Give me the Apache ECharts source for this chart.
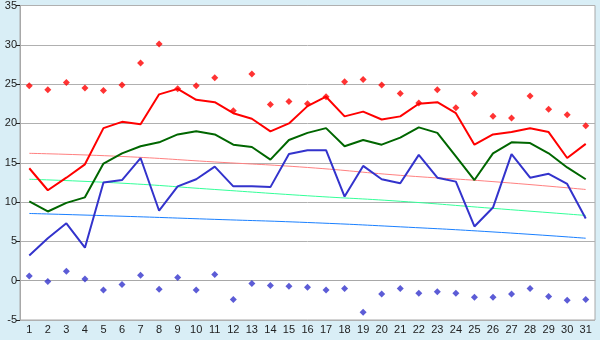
<!DOCTYPE html>
<html lang="en">
	<head>
		<meta charset="UTF-8">
		<title>Temperatures</title>
		<script src="https://cdn.jsdelivr.net/npm/echarts@6/dist/echarts.min.js"></script>
		<style>
			html, body { margin: 0; padding: 0; background: #d9eef6; }
		</style>
	</head>
	<body>
		<div id="main" style="width: 600px;height: 340px;"></div>
		<script>
			// days of the month
			var days = [];
			for (var d = 1; d <= 31; d++) days.push(String(d));

			var maxLine = [14.3, 11.5, 13.1, 14.8, 19.4, 20.2, 19.9, 23.7, 24.4, 23.0, 22.7, 21.3, 20.6, 19.0, 20.0, 22.2, 23.4, 20.9, 21.5, 20.5, 20.9, 22.5, 22.7, 21.3, 17.3, 18.6, 18.9, 19.4, 18.9, 15.6, 17.4];
			var avgLine = [10.1, 8.8, 9.9, 10.6, 14.9, 16.2, 17.1, 17.6, 18.6, 19.0, 18.6, 17.3, 17.0, 15.4, 17.9, 18.8, 19.4, 17.1, 17.9, 17.3, 18.2, 19.5, 18.8, 15.8, 12.8, 16.2, 17.6, 17.5, 16.2, 14.4, 12.9];
			var minLine = [3.2, 5.4, 7.3, 4.2, 12.5, 12.8, 15.6, 8.9, 12.0, 12.9, 14.5, 12.0, 12.0, 11.9, 16.1, 16.6, 16.6, 10.7, 14.6, 12.9, 12.4, 16.0, 13.1, 12.6, 6.9, 9.3, 16.1, 13.1, 13.6, 12.3, 7.9];
			var maxPoints = [24.8, 24.3, 25.2, 24.5, 24.2, 24.9, 27.7, 30.1, 24.4, 24.8, 25.8, 21.6, 26.3, 22.4, 22.8, 22.5, 23.4, 25.3, 25.6, 24.9, 23.8, 22.6, 24.3, 22.0, 23.8, 20.9, 20.7, 23.5, 21.8, 21.1, 19.7];
			var minPoints = [0.6, -0.1, 1.2, 0.2, -1.2, -0.5, 0.7, -1.1, 0.4, -1.2, 0.8, -2.4, -0.35, -0.6, -0.7, -0.85, -1.2, -1.0, -4.0, -1.7, -1.0, -1.6, -1.4, -1.6, -2.1, -2.1, -1.7, -1.0, -2.0, -2.5, -2.4];
			// trend curves read at days 1, 6, 11, 16, 21, 26, 31
			var maxTrend = [16.2, null, null, null, null, 15.8, null, null, null, null, 15.1, null, null, null, null, 14.4, null, null, null, null, 13.4, null, null, null, null, 12.6, null, null, null, null, 11.6];
			var avgTrend = [12.9, null, null, null, null, 12.4, null, null, null, null, 11.6, null, null, null, null, 10.8, null, null, null, null, 10.1, null, null, null, null, 9.2, null, null, null, null, 8.3];
			var minTrend = [8.55, null, null, null, null, 8.2, null, null, null, null, 7.8, null, null, null, null, 7.4, null, null, null, null, 6.85, null, null, null, null, 6.2, null, null, null, null, 5.4];

			var myChart = echarts.init(document.getElementById('main'));

			function lineSeries(data, color, width, z) {
				return {
					type: 'line',
					data: data,
					symbol: 'none',
					connectNulls: true,
					smooth: width === 1,
					lineStyle: { color: color, width: width },
					z: z
				};
			}

			function pointSeries(data, color) {
				return {
					type: 'scatter',
					data: data,
					symbol: 'diamond',
					symbolSize: 7,
					itemStyle: { color: color },
					z: 10
				};
			}

			var option = {
				animation: false,
				backgroundColor: '#d9eef6',
				textStyle: { fontFamily: 'Liberation Sans' },
				grid: {
					left: 20, right: 5, top: 5, bottom: 20,
					show: true,
					backgroundColor: '#ffffff',
					borderColor: '#a8a8a8',
					borderWidth: 1
				},
				xAxis: {
					type: 'category',
					data: days,
					boundaryGap: true,
					axisLine: { lineStyle: { color: '#a8a8a8' } },
					axisTick: { alignWithLabel: true, length: 5, lineStyle: { color: '#222' } },
					axisLabel: { color: '#222', fontSize: 11, margin: 4, interval: 0 }
				},
				yAxis: {
					type: 'value',
					min: -5, max: 35, interval: 5,
					axisLine: { show: true, lineStyle: { color: '#a8a8a8' } },
					axisTick: { show: true, length: 4, lineStyle: { color: '#222' } },
					axisLabel: { color: '#222', fontSize: 11, margin: 3 },
					splitLine: { lineStyle: { color: '#b0b0b0' } }
				},
				series: [
					lineSeries(maxTrend, '#ff8080', 1, 2),
					lineSeries(avgTrend, '#33ff99', 1, 2),
					lineSeries(minTrend, '#1a80ff', 1, 2),
					lineSeries(maxLine, '#ff0000', 2, 3),
					lineSeries(avgLine, '#006600', 2, 3),
					lineSeries(minLine, '#3333cc', 2, 3),
					pointSeries(maxPoints, '#ff0000'),
					pointSeries(minPoints, '#3333cc')
				]
			};
			myChart.setOption(option);
		</script>
	</body>
</html>
